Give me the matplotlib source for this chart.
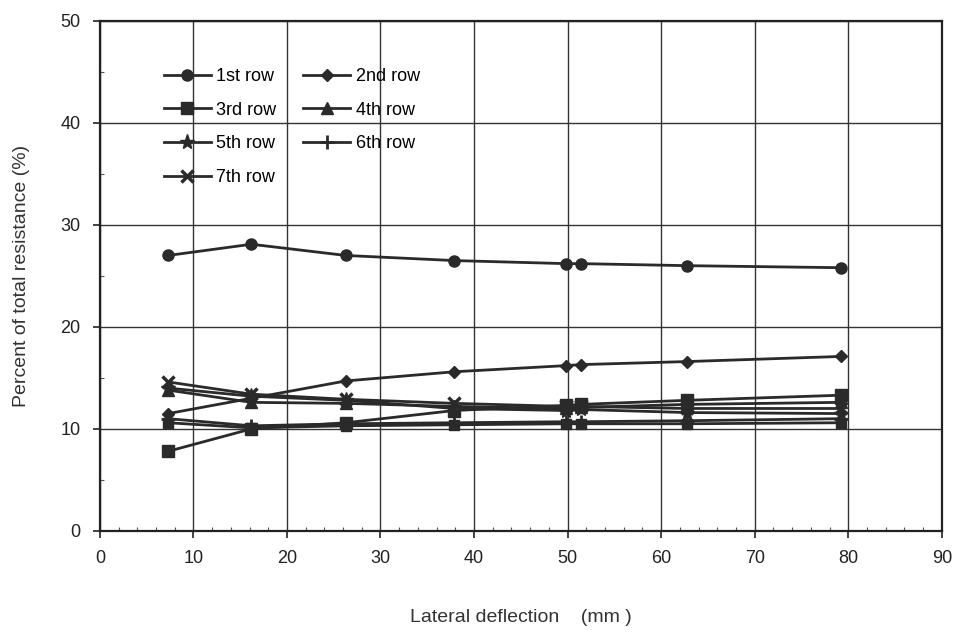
import matplotlib
matplotlib.use("Agg")
import matplotlib.pyplot as plt
from matplotlib.ticker import MultipleLocator

plt.rcParams['font.family'] = ['Liberation Sans', 'DejaVu Sans']

deflection = [7.3, 16.2, 26.3, 37.9, 49.8, 51.4, 62.8, 79.2]
row1 = [27.0, 28.1, 27.0, 26.5, 26.2, 26.2, 26.0, 25.8]
row2 = [11.5, 13.0, 14.7, 15.6, 16.2, 16.3, 16.6, 17.1]
row3 = [7.8, 10.0, 10.6, 11.8, 12.3, 12.4, 12.8, 13.3]
row4 = [13.8, 12.6, 12.5, 12.2, 12.0, 12.1, 12.4, 12.6]
row5 = [14.0, 13.2, 12.8, 12.0, 11.8, 11.9, 11.6, 11.5]
row6 = [11.0, 10.3, 10.5, 10.6, 10.7, 10.7, 10.8, 11.0]
row7 = [14.6, 13.4, 12.9, 12.5, 12.2, 12.2, 12.0, 12.0]
row8 = [10.6, 10.1, 10.3, 10.4, 10.5, 10.5, 10.5, 10.6]

labels = ['1st row', '2nd row', '3rd row', '4th row', '5th row', '6th row', '7th row']
xticks = [0, 10, 20, 30, 40, 50, 60, 70, 80, 90]
yticks = [0, 10, 20, 30, 40, 50]

fig = plt.figure(figsize=(9.6, 6.32), dpi=100)
ax = fig.add_axes([0.104, 0.160, 0.877, 0.807])

c = '#2a2a2a'
series = [
    (row1, dict(marker='o', ms=8)),
    (row2, dict(marker='D', ms=6.5)),
    (row3, dict(marker='s', ms=8)),
    (row4, dict(marker='^', ms=9)),
    (row5, dict(marker='*', ms=11)),
    (row6, dict(marker='+', ms=10, mew=2)),
    (row7, dict(marker='x', ms=9, mew=2.5)),
]
handles = []
for (vals, kw), lab in zip(series, labels):
    h, = ax.plot(deflection, vals, color=c, lw=2, label=lab, **kw)
    handles.append(h)
ax.plot(deflection, row8, color=c, lw=2, marker='s', ms=7)

ax.set_xlim(0, 90)
ax.set_ylim(0, 50)
ax.set_xticks(xticks)
ax.set_yticks(yticks)
ax.xaxis.set_minor_locator(MultipleLocator(2))
ax.yaxis.set_minor_locator(MultipleLocator(5))
ax.tick_params(which='major', direction='out', length=5, width=1.2, labelsize=13, colors='#222222', pad=9)
ax.tick_params(which='minor', direction='in', length=3, width=0.8, colors='#555555')
ax.grid(True, which='major', color='#333333', lw=1.0)
for s in ax.spines.values():
    s.set_color('#222222')
    s.set_linewidth(1.6)

ax.set_xlabel('Lateral deflection    (mm )', fontsize=14, color='#333333', labelpad=30)
ax.set_ylabel('Percent of total resistance (%)', fontsize=14, color='#333333', labelpad=22)

order = [0, 2, 4, 6, 1, 3, 5]
leg = ax.legend([handles[i] for i in order], [labels[i] for i in order],
                ncol=2, loc='upper left', bbox_to_anchor=(0.065, 0.925),
                frameon=False, fontsize=13, handlelength=2.6, handletextpad=0.3,
                columnspacing=1.5, labelspacing=0.92, borderpad=0)
leg.set_zorder(5)

fig.savefig('out.png', dpi=100, facecolor='white')
